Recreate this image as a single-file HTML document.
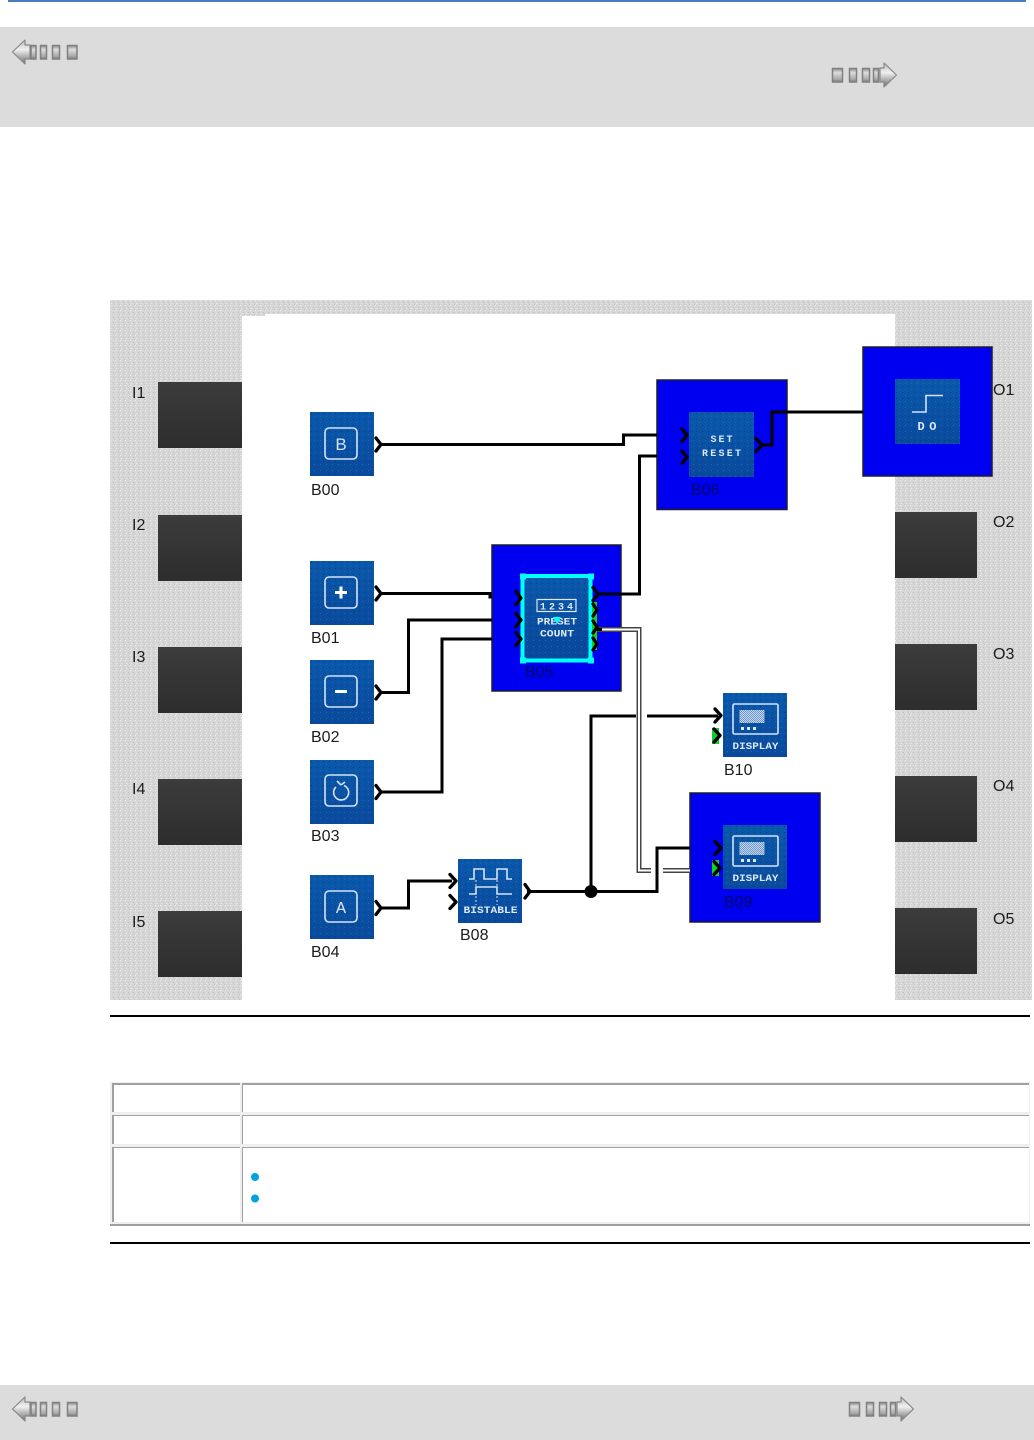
<!DOCTYPE html>
<html><head><meta charset="utf-8"><style>
html,body{margin:0;padding:0;background:#fff}
svg{display:block}
.l{font:16px "Liberation Sans",sans-serif;fill:#1c1c1c}
.d{font:16px "Liberation Sans",sans-serif;fill:#000a6a}
.p{font:bold 10px "Liberation Mono",monospace;fill:#dce8f6}
.w{fill:none;stroke:#000;stroke-width:3}
.c{fill:none;stroke:#000;stroke-width:3.300;stroke-linejoin:round;stroke-linecap:round}
.g{fill:none;stroke:#d5e2f2;stroke-width:1.600}
</style></head><body>
<svg width="1034" height="1440" viewBox="0 0 1034 1440" xmlns="http://www.w3.org/2000/svg">
<defs>
<linearGradient id="nb" x1="0" y1="0" x2="0" y2="1"><stop offset="0" stop-color="#8a8a8a"/><stop offset=".3" stop-color="#dedede"/><stop offset=".8" stop-color="#a8a8a8"/><stop offset="1" stop-color="#777"/></linearGradient>
<linearGradient id="nl" x1="0" y1="0" x2="0" y2="1"><stop offset="0" stop-color="#bbb"/><stop offset=".4" stop-color="#f0f0f0"/><stop offset=".8" stop-color="#999"/><stop offset="1" stop-color="#666"/></linearGradient>
<linearGradient id="ibg" gradientUnits="userSpaceOnUse" x1="0" y1="0" x2="0" y2="64"><stop offset="0" stop-color="#0a59ab"/><stop offset="1" stop-color="#0a4a9c"/></linearGradient>
<linearGradient id="dk" x1="0" y1="0" x2="0" y2="1"><stop offset="0" stop-color="#3c3c3c"/><stop offset="1" stop-color="#2d2d2e"/></linearGradient>
<pattern id="dots" width="6" height="6" patternUnits="userSpaceOnUse"><rect x="1" y="1" width="1" height="1" fill="#063c88"/><rect x="4" y="4" width="1" height="1" fill="#1a68b8"/></pattern>
<pattern id="ib" x="0" y="0" width="1" height="1" patternUnits="objectBoundingBox" patternContentUnits="userSpaceOnUse"><rect width="100" height="100" fill="url(#ibg)"/><rect width="100" height="100" fill="url(#dots)"/></pattern>
<pattern id="scr" width="2" height="2" patternUnits="userSpaceOnUse"><rect width="2" height="2" fill="#c3d6ee"/><rect width="1" height="1" fill="#6f97cc"/><rect x="1" y="1" width="1" height="1" fill="#6f97cc"/></pattern>
<pattern id="ns" width="5" height="5" patternUnits="userSpaceOnUse"><rect width="5" height="5" fill="#d6d6d6"/><rect x="0" y="0" width="1" height="1" fill="#efefef"/><rect x="3" y="2" width="1" height="1" fill="#c2c2c2"/><rect x="1" y="3" width="1" height="1" fill="#e8e8e8"/><rect x="4" y="4" width="1" height="1" fill="#c6c6c6"/></pattern>
<g id="navL"><path d="M12.500,52 L25,40 L25,45 L30,45 L30,59 L25,59 L25,64 Z" fill="url(#nl)" stroke="#888" stroke-width="1.200" stroke-linejoin="round"/>
<g fill="url(#nb)" stroke="#808080" stroke-width="1.500"><rect x="31" y="45.500" width="5" height="13.500"/><rect x="40.500" y="45.500" width="6" height="13.500"/><rect x="52.500" y="45.500" width="7" height="13.500"/><rect x="67.500" y="45.500" width="9.500" height="13.500"/></g></g>
<g id="navR"><g fill="url(#nb)" stroke="#808080" stroke-width="1.500"><rect x="832.500" y="68.500" width="10" height="13.500"/><rect x="849.500" y="68.500" width="7" height="13.500"/><rect x="862.500" y="68.500" width="7" height="13.500"/><rect x="873.500" y="68.500" width="5" height="13.500"/></g>
<path d="M896.500,75 L884,63 L884,68 L880,68 L880,82 L884,82 L884,87 Z" fill="url(#nl)" stroke="#888" stroke-width="1.200" stroke-linejoin="round"/></g>
<g id="disp"><rect width="64" height="64" fill="url(#ib)"/><rect x="10" y="11" width="45" height="30" rx="1.500" class="g"/><rect x="16.500" y="17" width="25" height="13" fill="url(#scr)"/><rect x="18" y="34" width="3" height="3" fill="#dce8f6"/><rect x="24" y="34" width="3" height="3" fill="#dce8f6"/><rect x="30" y="34" width="3" height="3" fill="#dce8f6"/><text x="32.500" y="56" text-anchor="middle" class="p" textLength="46" lengthAdjust="spacingAndGlyphs">DISPLAY</text></g>
</defs>

<rect x="8" y="0" width="1018" height="2" fill="#4a7ebb"/>
<rect x="0" y="27" width="1034" height="100" fill="#dcdcdc"/>
<use href="#navL"/><use href="#navR"/>

<rect x="110" y="300" width="922" height="700" fill="url(#ns)"/>
<path d="M242,316 H265 V314 H895 V1000 H242 Z" fill="#fff"/>

<g fill="url(#dk)">
<rect x="158" y="382" width="84" height="66"/><rect x="158" y="515" width="84" height="66"/><rect x="158" y="647" width="84" height="66"/><rect x="158" y="779" width="84" height="66"/><rect x="158" y="911" width="84" height="66"/>
<rect x="895" y="512" width="82" height="66"/><rect x="895" y="644" width="82" height="66"/><rect x="895" y="776" width="82" height="66"/><rect x="895" y="908" width="82" height="66"/>
</g>
<text class="l" x="132" y="398">I1</text><text class="l" x="132" y="530">I2</text><text class="l" x="132" y="662">I3</text><text class="l" x="132" y="794">I4</text><text class="l" x="132" y="927">I5</text>
<text class="l" x="993" y="395">O1</text><text class="l" x="993" y="527">O2</text><text class="l" x="993" y="659">O3</text><text class="l" x="993" y="791">O4</text><text class="l" x="993" y="924">O5</text>

<!-- blue surrounds -->
<g fill="#0000f0" stroke="#1c1c30" stroke-width="1.500">
<rect x="657" y="380" width="130" height="129.500"/>
<rect x="863" y="347" width="129" height="129"/>
<rect x="492" y="545" width="129" height="146"/>
<rect x="690" y="793" width="130" height="129"/>
</g>

<!-- wires -->
<g class="w">
<path d="M380,444.500 H623.500 V435 H657"/>
<path d="M380,593.500 H490 V597 H492"/>
<path d="M380,692.500 H408.500 V620 H492"/>
<path d="M380,792 H442 V639 H492"/>
<path d="M380,908 H408.500 V881 H452"/>
<path d="M596,594 H639.500 V456 H657"/>
<path d="M762,445 H772 V412 H863"/>
<path d="M527,891.500 H657 V848 H690"/>
<path d="M636,716 H591 V891"/>
<path d="M647,716 H718"/>
</g>
<circle cx="591" cy="891.500" r="6.500" fill="#000"/>
<g fill="none" stroke="#444" stroke-width="5"><path d="M597,629.500 H639 V870.500 H651"/><path d="M663,870.500 H690"/></g>
<g fill="none" stroke="#fff" stroke-width="2"><path d="M600,629.500 H639 V870.500 H651"/><path d="M663,870.500 H690"/></g>
<path d="M595,629.500 H602" stroke="#000" stroke-width="3" fill="none"/>

<!-- simple icons -->
<rect x="310" y="412" width="64" height="64" fill="url(#ib)"/><rect x="325" y="428" width="32" height="31" rx="4" class="g"/><text x="341" y="450" text-anchor="middle" style="font:17px 'Liberation Sans',sans-serif;fill:#d5e2f2">B</text>
<rect x="310" y="561" width="64" height="64" fill="url(#ib)"/><rect x="325" y="577" width="32" height="31" rx="4" class="g"/><path d="M335,592.500 H347 M341,586.500 V598.500" stroke="#fff" stroke-width="3" fill="none"/>
<rect x="310" y="660" width="64" height="64" fill="url(#ib)"/><rect x="325" y="676" width="32" height="31" rx="4" class="g"/><path d="M335,691.500 H347" stroke="#fff" stroke-width="3" fill="none"/>
<rect x="310" y="760" width="64" height="64" fill="url(#ib)"/><rect x="325" y="775" width="32" height="31" rx="4" class="g"/><path d="M344,785.500 A7.500,7.500 0 1 1 336,787 M341,785 L337,781 M341,785 L345,782" class="g" transform="translate(0,0)"/>
<rect x="310" y="875" width="64" height="64" fill="url(#ib)"/><rect x="325" y="891" width="32" height="31" rx="4" class="g"/><text x="341" y="913" text-anchor="middle" style="font:17px 'Liberation Mono',monospace;fill:#d5e2f2">A</text>

<rect x="458" y="859" width="64" height="64" fill="url(#ib)"/>
<path d="M469,879 H474 V869 H484 V879 H497 V869 H507 V879 H512" class="g"/>
<path d="M469,894 H476 V887 H497 V894 H512" class="g"/>
<path d="M476,880 V905 M497,880 V905" fill="none" stroke="#d5e2f2" stroke-width="1" stroke-dasharray="2 2"/>
<text x="490.500" y="913" text-anchor="middle" class="p" textLength="54" lengthAdjust="spacingAndGlyphs">BISTABLE</text>

<use href="#disp" x="723" y="693"/>
<use href="#disp" x="723" y="825"/>

<rect x="689" y="412" width="65" height="65" fill="url(#ib)"/>
<text x="721.500" y="442" text-anchor="middle" class="p" textLength="22" lengthAdjust="spacing">SET</text>
<text x="721.500" y="456" text-anchor="middle" class="p" textLength="39" lengthAdjust="spacing">RESET</text>

<rect x="895" y="379" width="65" height="65" fill="url(#ib)"/>
<path d="M912,412 H926 V395.500 H943" class="g"/>
<text x="927" y="430" text-anchor="middle" class="p" style="font-size:12px" textLength="19" lengthAdjust="spacing">DO</text>

<rect x="523" y="576" width="67" height="84" fill="url(#ib)"/>
<rect x="537" y="599.500" width="39" height="12" fill="none" stroke="#dce8f6" stroke-width="1.200"/>
<text x="556.500" y="609.500" text-anchor="middle" class="p" textLength="33" lengthAdjust="spacing">1234</text>
<text x="557" y="624.500" text-anchor="middle" class="p" textLength="40" lengthAdjust="spacingAndGlyphs">PRESET</text>
<text x="557" y="636.500" text-anchor="middle" class="p" textLength="34" lengthAdjust="spacingAndGlyphs">COUNT</text>
<rect x="522.500" y="576" width="68" height="84.500" fill="none" stroke="#00ffff" stroke-width="4"/>
<g fill="#00ffff"><rect x="520" y="573.500" width="6" height="6"/><rect x="588" y="573.500" width="6" height="6"/><rect x="520" y="657.500" width="6" height="6"/><rect x="588" y="657.500" width="6" height="6"/><path d="M553,617 H561 L557,624 Z"/></g>

<!-- green pins -->
<g fill="#10d020"><rect x="592" y="602" width="5" height="48"/><rect x="712" y="728" width="7" height="16"/><rect x="712" y="860" width="7" height="16"/></g>

<!-- chevrons -->
<g class="c">
<path d="M376,438 L381,444.500 L376,451"/>
<path d="M376,587 L381,593.500 L376,600"/>
<path d="M376,686 L381,692.500 L376,699"/>
<path d="M376,785.500 L381,792 L376,798.500"/>
<path d="M376,901.500 L381,908 L376,914.500"/>
<path d="M525,884.500 L530,891.500 L525,898"/>
<path d="M450,874.500 L456,881 L450,887.500"/>
<path d="M450,895.500 L456,902 L450,908.500"/>
<path d="M516,591.500 L521,598 L516,604.500"/>
<path d="M516,613.500 L521,620 L516,626.500"/>
<path d="M516,632.500 L521,639 L516,645.500"/>
<path d="M593,587.500 L598,594 L593,600.500"/>
<path d="M593,604 L597,610 L593,616"/>
<path d="M593,621 L597,627 L593,633"/>
<path d="M593,638 L597,644 L593,650"/>
<path d="M682,429 L687,435 L682,441.500"/>
<path d="M682,451 L687,457 L682,463.500"/>
<path d="M756,438.500 L762,445 L756,451.500"/>
<path d="M715,709 L721,715.500 L715,722"/>
<path d="M714,729 L720,735.500 L714,742"/>
<path d="M715,841.500 L721,848 L715,854.500"/>
<path d="M714,861.500 L720,868 L714,874.500"/>
</g>

<!-- block labels -->
<text class="l" x="311" y="495">B00</text>
<text class="l" x="311" y="643">B01</text>
<text class="l" x="311" y="742">B02</text>
<text class="l" x="311" y="841">B03</text>
<text class="l" x="311" y="957">B04</text>
<text class="l" x="460" y="940">B08</text>
<text class="l" x="724" y="775">B10</text>
<text class="d" x="525" y="677">B05</text>
<text class="d" x="691" y="495">B06</text>
<text class="d" x="724" y="907">B09</text>

<!-- rules + table -->
<rect x="110" y="1015" width="920" height="2" fill="#000"/>
<rect x="110" y="1242" width="920" height="2" fill="#000"/>
<rect x="110" y="1082" width="920" height="144" fill="#efefef"/>
<rect x="110" y="1224" width="920" height="2" fill="#a0a0a0"/>
<g fill="#fff">
<rect x="112" y="1083" width="128" height="29"/><rect x="242" y="1083" width="787" height="29"/>
<rect x="112" y="1115" width="128" height="29"/><rect x="242" y="1115" width="787" height="29"/>
<rect x="112" y="1147" width="128" height="75"/><rect x="242" y="1147" width="787" height="75"/>
</g>
<g fill="#a0a0a0">
<rect x="112" y="1083" width="128" height="2"/><rect x="242" y="1083" width="787" height="2"/>
<rect x="112" y="1115" width="128" height="1"/><rect x="242" y="1115" width="787" height="1"/>
<rect x="112" y="1147" width="128" height="1"/><rect x="242" y="1147" width="787" height="1"/>
<rect x="112" y="1083" width="2" height="139"/><rect x="242" y="1083" width="1" height="139"/>
</g>
<rect x="112" y="1112" width="2" height="3" fill="#efefef"/><rect x="112" y="1144" width="2" height="3" fill="#efefef"/>
<rect x="242" y="1112" width="1" height="3" fill="#efefef"/><rect x="242" y="1144" width="1" height="3" fill="#efefef"/>
<circle cx="255" cy="1177" r="4" fill="#00a2e0"/>
<circle cx="255" cy="1198.500" r="4" fill="#00a2e0"/>

<rect x="0" y="1385" width="1034" height="55" fill="#dcdcdc"/>
<use href="#navL" y="1357"/>
<use href="#navR" x="17" y="1334"/>
</svg>
</body></html>
